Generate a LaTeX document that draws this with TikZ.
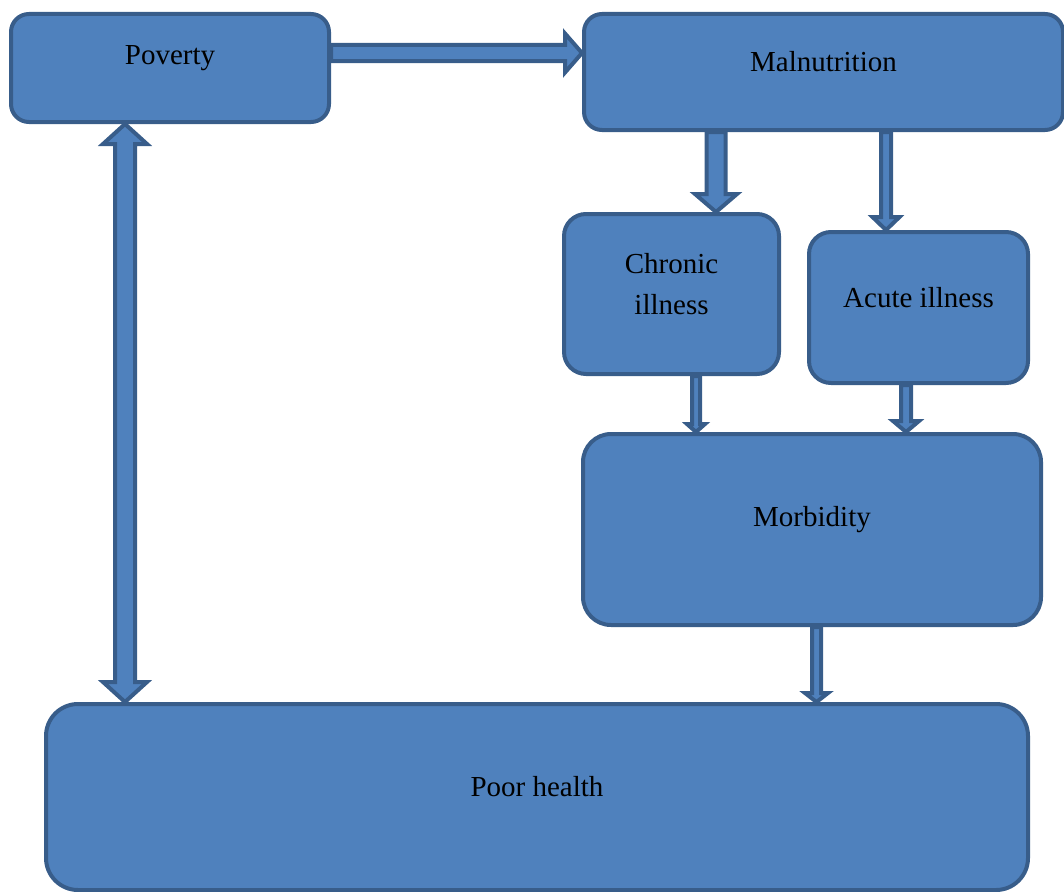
\documentclass[tikz,border=0pt]{standalone}
\usepackage{fontspec}
\setmainfont{Liberation Serif}
\usetikzlibrary{calc}
\definecolor{boxfill}{HTML}{4F81BD}
\definecolor{boxline}{HTML}{385D8A}
\tikzset{
  box/.style={draw=boxline, fill=boxfill, line width=4pt, rounded corners=#1, inner sep=0pt},
  box/.default=18pt,
  boxtext/.style={font=\fontsize{29}{41}\selectfont, text=black, align=center, yshift=10pt},
  blockarrow/.style={draw=boxline, fill=boxfill, line width=4pt, line join=miter}
}
% downward block arrow: #1 from, #2 to, #3 shaft half width, #4 head half width, #5 head length
\newcommand\vblockarrow[5]{%
  \path[blockarrow] let \p1=#1, \p2=#2 in
    (\x1-#3pt,\y1) -- (\x1-#3pt,\y2+#5pt) -- (\x1-#4pt,\y2+#5pt) -- (\x1,\y2)
    -- (\x1+#4pt,\y2+#5pt) -- (\x1+#3pt,\y2+#5pt) -- (\x1+#3pt,\y1) -- cycle;}
% rightward block arrow
\newcommand\hblockarrow[5]{%
  \path[blockarrow] let \p1=#1, \p2=#2 in
    (\x1,\y1+#3pt) -- (\x2-#5pt,\y1+#3pt) -- (\x2-#5pt,\y1+#4pt) -- (\x2,\y1)
    -- (\x2-#5pt,\y1-#4pt) -- (\x2-#5pt,\y1-#3pt) -- (\x1,\y1-#3pt) -- cycle;}
% vertical double block arrow: #1 top, #2 bottom
\newcommand\dblockarrow[5]{%
  \path[blockarrow] let \p1=#1, \p2=#2 in
    (\x1,\y1) -- (\x1-#4pt,\y1-#5pt) -- (\x1-#3pt,\y1-#5pt) -- (\x1-#3pt,\y2+#5pt)
    -- (\x1-#4pt,\y2+#5pt) -- (\x1,\y2) -- (\x1+#4pt,\y2+#5pt) -- (\x1+#3pt,\y2+#5pt)
    -- (\x1+#3pt,\y1-#5pt) -- (\x1+#4pt,\y1-#5pt) -- cycle;}
\begin{document}
\begin{tikzpicture}[x=1pt, y=-1pt]
\useasboundingbox (0,0) rectangle (1064,891);
% boxes
\node[box, minimum width=318pt, minimum height=108pt,
      label={[boxtext]center:Poverty}] (pov) at (170,68) {};
\node[box, minimum width=479pt, minimum height=116pt,
      label={[boxtext]center:Malnutrition}] (mal) at (823.5,72) {};
\node[box=22pt, minimum width=215pt, minimum height=160pt,
      label={[boxtext]center:Chronic\\illness}] (chr) at (671.5,294) {};
\node[box=22pt, minimum width=219pt, minimum height=151pt,
      label={[boxtext]center:Acute illness}] (acu) at (918.5,307.5) {};
\node[box=28pt, minimum width=458pt, minimum height=191pt,
      label={[boxtext]center:Morbidity}] (mor) at (812,529.5) {};
\node[box=32pt, minimum width=982pt, minimum height=186pt,
      label={[boxtext]center:Poor health}] (poor) at (537,797) {};
% column / row guides for connectors
\coordinate (rowA) at (0,53);
\coordinate (colP) at (125,0);
\coordinate (colC) at (716,0);
\coordinate (colA) at (886,0);
\coordinate (colCM) at (696,0);
\coordinate (colAM) at (906,0);
\coordinate (colMP) at (816.5,0);
% connectors
\hblockarrow{(pov.east |- rowA)}{(mal.west |- rowA)}{8}{19.5}{17}
\dblockarrow{(pov.south -| colP)}{(poor.north -| colP)}{10}{22}{20}
\vblockarrow{(mal.south -| colC)}{(chr.north -| colC)}{9.5}{21}{18}
\vblockarrow{(mal.south -| colA)}{(acu.north -| colA)}{5}{13.5}{13}
\vblockarrow{(chr.south -| colCM)}{(mor.north -| colCM)}{4}{9}{8}
\vblockarrow{(acu.south -| colAM)}{(mor.north -| colAM)}{5}{13}{11}
\vblockarrow{(mor.south -| colMP)}{(poor.north -| colMP)}{4.5}{11.5}{9}
\end{tikzpicture}
\end{document}
